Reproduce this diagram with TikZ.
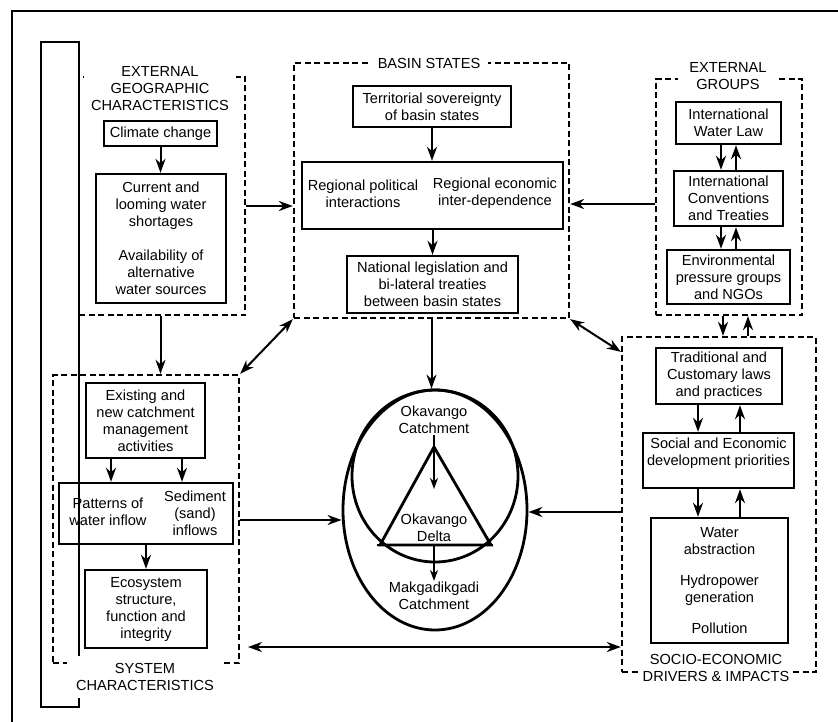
\documentclass[tikz,border=0pt]{standalone}
\usepackage{fontspec}
\setmainfont{Liberation Sans}
\usetikzlibrary{arrows.meta,calc,shapes.geometric}
\tikzset{
  hd/.tip={Stealth[length=14pt,width=10pt,inset=4.5pt]},
  shd/.tip={Stealth[length=11pt,width=8pt,inset=3.5pt]},
  box/.style={draw, line width=2.4pt, align=center, inner sep=0pt, anchor=center},
  grp/.style={draw, line width=2.3pt, dash pattern=on 6pt off 3.5pt, inner sep=0pt, anchor=center},
  ttl/.style={fill=white, align=center, inner xsep=8pt, inner ysep=3pt},
  lbl/.style={align=center, inner sep=1pt},
  arr/.style={line width=2pt, -hd},
  darr/.style={line width=2pt, hd-hd},
  sarr/.style={line width=1.6pt, -shd},
  ring/.style={draw, ellipse, line width=2.8pt, inner sep=0pt},
}
\begin{document}
\begin{tikzpicture}[x=1pt,y=-1pt,font=\fontsize{14.6pt}{17pt}\selectfont]
\useasboundingbox (0,0) rectangle (838,722);
\fill[white] (0,0) rectangle (838,722);

% outer frame (right and bottom edges lie outside the picture)
\draw[line width=1.4pt] (838,11) -- (12,11) -- (12,722);
% tall bracket on the left
\draw[line width=2.4pt] (41,42) rectangle (79,707);

% group boxes
\node[grp, minimum width=166pt, minimum height=238pt] (geo) at (162,196) {};
\node[grp, minimum width=275pt, minimum height=255pt] (basin) at (431.5,190.5) {};
\node[grp, minimum width=146pt, minimum height=236pt] (ext) at (729,197) {};
\node[grp, minimum width=186pt, minimum height=288pt] (sys) at (146,519) {};
\node[grp, minimum width=194pt, minimum height=335pt] (socio) at (719,504.5) {};

% group titles
\node[ttl, inner xsep=7pt] (geot) at (160,89) {EXTERNAL\\GEOGRAPHIC\\CHARACTERISTICS};
\node[ttl] (basint) at (429,63) {BASIN STATES};
\node[ttl, inner xsep=11pt] (extt) at (728,76) {EXTERNAL\\GROUPS};
\node[ttl, inner xsep=9pt, inner ysep=7pt] (syst) at (145,677) {SYSTEM\\CHARACTERISTICS};
\node[ttl, inner xsep=4pt, inner ysep=2pt] (sociot) at (716,667.5) {SOCIO-ECONOMIC\\DRIVERS \& IMPACTS};

% external geographic characteristics
\node[box, minimum width=113pt, minimum height=25pt] (clim) at (160.5,133.5) {Climate change};
\node[box, minimum width=130pt, minimum height=129pt] (cur) at (161,238.5)
  {Current and\\looming water\\shortages\\[17pt]Availability of\\alternative\\water sources};

% basin states
\node[box, minimum width=158pt, minimum height=41pt] (terr) at (432,106.5) {Territorial sovereignty\\of basin states};
\node[box, minimum width=261pt, minimum height=67pt] (reg) at (432.5,195.5) {};
\node[lbl] (regp) at (363,193.5) {Regional political\\interactions};
\node[lbl] (rege) at (495,193.5) {Regional economic\\inter-dependence};
\node[box, minimum width=171pt, minimum height=57pt] (nat) at (432.5,284.5) {National legislation and\\bi-lateral treaties\\between basin states};

% external groups
\node[box, minimum width=105pt, minimum height=42pt] (iwl) at (728.5,123) {International\\Water Law};
\node[box, minimum width=109pt, minimum height=55pt] (ict) at (728.5,198.5) {International\\Conventions\\and Treaties};
\node[box, minimum width=123pt, minimum height=54pt] (env) at (728.5,277) {Environmental\\pressure groups\\and NGOs};

% socio-economic
\node[box, minimum width=126pt, minimum height=56pt] (trad) at (719,376) {Traditional and\\Customary laws\\and practices};
\node[box, minimum width=151pt, minimum height=55pt] (soc) at (718.5,460.5) {};
\node[lbl] (soct) at (718.5,453.5) {Social and Economic\\development priorities};
\node[box, minimum width=137pt, minimum height=125pt] (wat) at (719.5,580.5)
  {Water\\abstraction\\[14pt]Hydropower\\generation\\[14pt]Pollution};

% system characteristics
\node[box, minimum width=119pt, minimum height=75pt] (exi) at (145.5,420.5) {Existing and\\new catchment\\management\\activities};
\node[box, minimum width=174pt, minimum height=61pt] (pat) at (146,513.5) {};
\node[lbl] (patw) at (108,512) {Patterns of\\water inflow};
\node[lbl] (pats) at (195,513) {Sediment\\(sand)\\inflows};
\node[box, minimum width=122pt, minimum height=78pt] (eco) at (146,609) {Ecosystem\\structure,\\function and\\integrity};

% catchment ellipse, circle and delta triangle
\node[ring, minimum width=184pt, minimum height=240pt] (ell) at (435,510) {};
\node[ring, minimum width=166pt, minimum height=172pt] (circ) at (435,476) {};
\coordinate (apex) at (434,447);
\coordinate (bl) at (380,545);
\coordinate (br) at (491,545);
\coordinate (tb) at (434,545);
\draw[line width=2.8pt] (apex) -- (bl) -- (br) -- cycle;
\draw[line width=2.8pt] ([xshift=-3pt]bl) -- ([xshift=2pt]br);
\node[lbl] (okc) at (434,420) {Okavango\\Catchment};
\node[lbl] (okd) at (434,528) {Okavango\\Delta};
\node[lbl] (mak) at (434,596) {Makgadikgadi\\Catchment};
\coordinate (dtip) at (434,489);
\draw[sarr] (okc.south) -- (dtip);
\draw[sarr] (tb) -- (mak.north);

% arrows inside groups
\draw[arr] (clim.south) -- (clim.south |- cur.north);
\draw[arr] (terr.south) -- (terr.south |- reg.north);
\draw[arr] (nat.north |- reg.south) -- (nat.north);
\draw[arr] ([xshift=-7.5pt]iwl.south) -- ([xshift=-7.5pt]iwl.south |- ict.north);
\draw[arr] ([xshift=7.5pt]iwl.south |- ict.north) -- ([xshift=7.5pt]iwl.south);
\draw[arr] ([xshift=-7.5pt]ict.south) -- ([xshift=-7.5pt]ict.south |- env.north);
\draw[arr] ([xshift=7.5pt]ict.south |- env.north) -- ([xshift=7.5pt]ict.south);
\draw[arr] ([xshift=-21pt]trad.south) -- ([xshift=-21pt]trad.south |- soc.north);
\draw[arr] ([xshift=21pt]trad.south |- soc.north) -- ([xshift=21pt]trad.south);
\draw[arr] ([xshift=-21pt]trad.south |- soc.south) -- ([xshift=-21pt]trad.south |- wat.north);
\draw[arr] ([xshift=21pt]trad.south |- wat.north) -- ([xshift=21pt]trad.south |- soc.south);
\draw[arr] ([xshift=-34.5pt]exi.south) -- ([xshift=-34.5pt]exi.south |- pat.north);
\draw[arr] ([xshift=36.5pt]exi.south) -- ([xshift=36.5pt]exi.south |- pat.north);
\draw[arr] (eco.north |- pat.south) -- (eco.north);

% arrows between groups
\coordinate (ya) at (0,206);
\draw[arr] (geo.east |- ya) -- (basin.west |- ya);
\coordinate (yb) at (0,204);
\draw[arr] (ext.west |- yb) -- (basin.east |- yb);
\draw[arr] (geo.south -| clim) -- (sys.north -| clim);
\draw[darr] (basin.south west) -- (sys.north east);
\draw[darr] (basin.south east) -- ([yshift=-16pt]socio.north west);
\draw[arr] ([xshift=-6pt]ext.south) -- ([xshift=-6pt]ext.south |- socio.north);
\draw[arr] ([xshift=19pt]ext.south |- socio.north) -- ([xshift=19pt]ext.south);
\draw[arr] (basin.south) -- (basin.south |- ell.north);
\coordinate (yc) at (0,520);
\draw[arr] (sys.east |- yc) -- (ell.west |- yc);
\coordinate (yd) at (0,512);
\draw[arr] (socio.west |- yd) -- (ell.east |- yd);
\coordinate (ye) at (248,647);
\draw[darr] (ye) -- (socio.west |- ye);
\end{tikzpicture}
\end{document}
